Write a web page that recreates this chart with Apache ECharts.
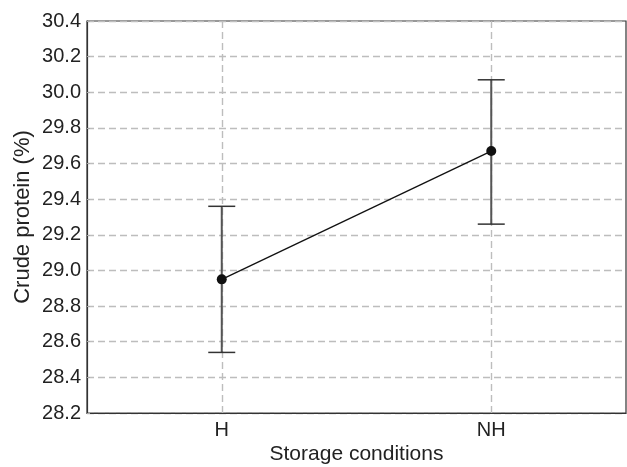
<!DOCTYPE html>
<html>
<head>
<meta charset="utf-8">
<script src="https://cdn.jsdelivr.net/npm/echarts@6/dist/echarts.min.js"></script>
<style>
html, body { margin: 0; padding: 0; background: #fff; }
#chart { width: 627px; height: 467px; }
</style>
</head>
<body>
<div id="chart"></div>
<script>
var categories = ['H', 'NH'];
var means = [28.95, 29.67];
var lower = [28.54, 29.26];
var upper = [29.36, 30.07];
var yTicks = [28.2, 30.4, 0.2]; // min, max, step

window.onload = function () {
	var myChart = echarts.init(document.getElementById('chart'));

	var errData = categories.map(function (c, i) {
		return [i, lower[i], upper[i]];
	});

	var gridDash = { color: '#bdbdbd', type: [7, 4], width: 1.4 };

	var option = {
		animation: false,
		textStyle: { fontFamily: 'Liberation Sans, Arial, sans-serif' },
		grid: {
			left: 87, right: 1, top: 21, bottom: 54,
			outerBoundsMode: 'none',
			containLabel: false,
			show: true, borderColor: '#333', borderWidth: 1.2
		},
		xAxis: {
			type: 'category',
			data: categories,
			boundaryGap: true,
			name: 'Storage conditions',
			nameLocation: 'middle',
			nameGap: 31,
			nameMoveOverlap: false,
			nameTextStyle: { fontSize: 21, color: '#222' },
			axisLine: { lineStyle: { color: '#333', width: 1.2 } },
			axisTick: { show: false },
			axisLabel: { fontSize: 20, color: '#222', margin: 7 },
			splitLine: { show: false }
		},
		yAxis: {
			type: 'value',
			min: yTicks[0],
			max: yTicks[1],
			interval: yTicks[2],
			name: 'Crude protein (%)',
			nameLocation: 'middle',
			nameGap: 53,
			nameMoveOverlap: false,
			nameTextStyle: { fontSize: 22, color: '#222' },
			axisLine: { show: true, lineStyle: { color: '#333', width: 1.2 } },
			axisTick: { show: true, inside: true, length: 3, lineStyle: { color: '#aaa' } },
			axisLabel: {
				fontSize: 20, color: '#222', margin: 6,
				formatter: function (v) { return v.toFixed(1); }
			},
			splitLine: { show: true, lineStyle: gridDash }
		},
		series: [{
			// vertical dashed guides at each category
			type: 'line',
			data: [],
			z: 1,
			markLine: {
				silent: true,
				symbol: 'none',
				label: { show: false },
				lineStyle: gridDash,
				data: categories.map(function (c) { return { xAxis: c }; })
			}
		}, {
			type: 'custom',
			data: errData,
			z: 10,
			renderItem: function (params, api) {
				var x = api.value(0);
				var lo = api.coord([x, api.value(1)]);
				var hi = api.coord([x, api.value(2)]);
				var hw = 13.5;
				var bar = { stroke: '#555', lineWidth: 2 };
				var cap = { stroke: '#333', lineWidth: 1.5 };
				return {
					type: 'group',
					children: [
						{ type: 'line', shape: { x1: lo[0], y1: lo[1], x2: hi[0], y2: hi[1] }, style: bar },
						{ type: 'line', shape: { x1: lo[0] - hw, y1: lo[1], x2: lo[0] + hw, y2: lo[1] }, style: cap },
						{ type: 'line', shape: { x1: hi[0] - hw, y1: hi[1], x2: hi[0] + hw, y2: hi[1] }, style: cap }
					]
				};
			}
		}, {
			type: 'line',
			data: means,
			symbol: 'circle',
			symbolSize: 10,
			itemStyle: { color: '#111' },
			lineStyle: { color: '#111', width: 1.3 },
			z: 12
		}]
	};

	myChart.setOption(option);
};
</script>
</body>
</html>
